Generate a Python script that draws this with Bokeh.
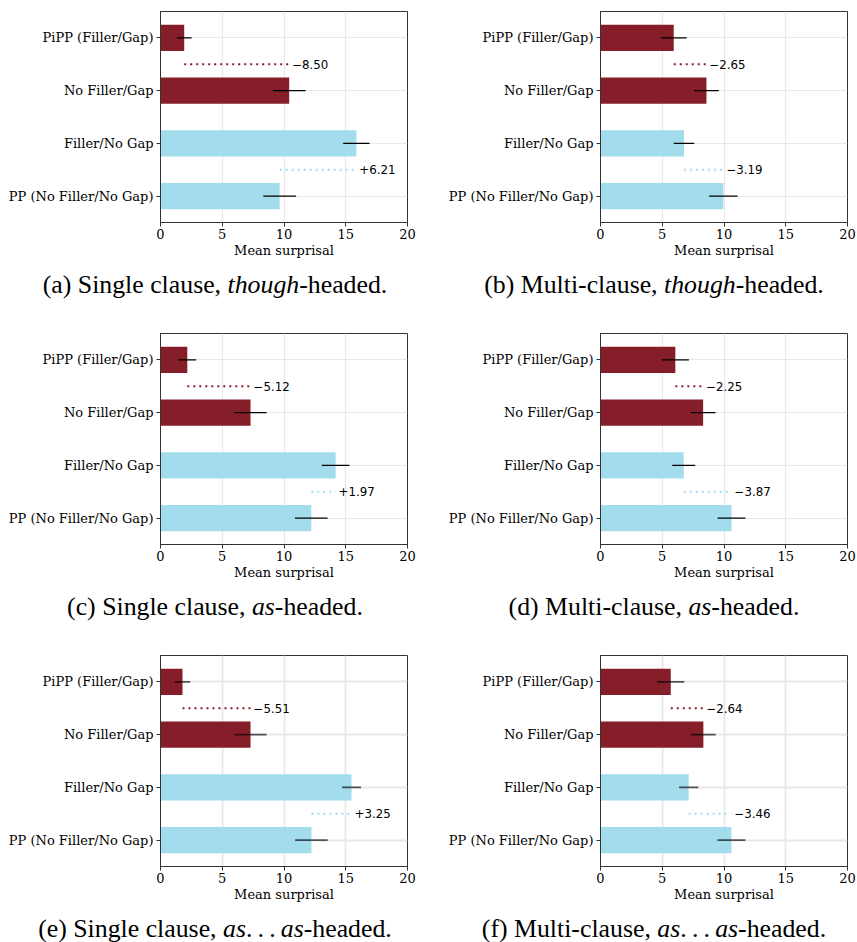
from bokeh.plotting import figure
from bokeh.layouts import column, row
from bokeh.models import Range1d, FixedTicker, Div, ColumnDataSource
from bokeh.core.properties import value
from bokeh.embed import file_html
from bokeh.resources import INLINE

# Conditions, top to bottom
CONDITIONS = ["PiPP (Filler/Gap)", "No Filler/Gap", "Filler/No Gap", "PP (No Filler/No Gap)"]

# Mean surprisal per condition, one list per panel
MEANS_A = [1.92, 10.42, 15.86, 9.65]
MEANS_B = [5.93, 8.58, 6.76, 9.95]
MEANS_C = [2.17, 7.29, 14.18, 12.21]
MEANS_D = [6.06, 8.31, 6.74, 10.61]
MEANS_E = [1.78, 7.29, 15.47, 12.22]
MEANS_F = [5.69, 8.33, 7.14, 10.60]

# Half-width of the error bars
ERRS_A = [0.60, 1.33, 1.07, 1.33]
ERRS_B = [1.05, 1.00, 0.83, 1.15]
ERRS_C = [0.72, 1.30, 1.12, 1.32]
ERRS_D = [1.10, 1.00, 0.93, 1.13]
ERRS_E = [0.62, 1.30, 0.77, 1.32]
ERRS_F = [1.10, 1.00, 0.78, 1.13]

CAPTIONS = [
    "(a) Single clause, <i>though</i>-headed.",
    "(b) Multi-clause, <i>though</i>-headed.",
    "(c) Single clause, <i>as</i>-headed.",
    "(d) Multi-clause, <i>as</i>-headed.",
    "(e) Single clause, <i>as</i>.&thinsp;.&thinsp;.&thinsp;<i>as</i>-headed.",
    "(f) Multi-clause, <i>as</i>.&thinsp;.&thinsp;.&thinsp;<i>as</i>-headed.",
]

X_TICKS = [0, 5, 10, 15, 20]

RED = "#861E2A"
BLUE = "#A2DCED"
SERIF = "DejaVu Serif"


def fmt_delta(d):
    d = round(d, 2)
    return ("\u2212" if d < 0 else "+") + f"{abs(d):.2f}"


def panel(means, errs, right_border, heavy=False):
    n = len(CONDITIONS)
    ys = [n - 1 - i for i in range(n)]
    colors = [RED, RED, BLUE, BLUE]

    p = figure(frame_width=247, frame_height=211,
               min_border_left=160, min_border_right=right_border,
               min_border_top=11, min_border_bottom=40,
               x_range=Range1d(0, 20), y_range=Range1d(-0.5, n - 0.5),
               output_backend="svg", toolbar_location=None)
    p.background_fill_color = "white"
    p.border_fill_color = "white"
    p.outline_line_color = "#333333"
    p.outline_line_width = 1

    grid_w = 1.8 if heavy else 1.2
    p.xgrid.ticker = FixedTicker(ticks=X_TICKS)
    p.ygrid.ticker = FixedTicker(ticks=ys)
    for g in (p.xgrid, p.ygrid):
        g.grid_line_color = "#e8e8e8"
        g.grid_line_width = grid_w

    p.xaxis.ticker = FixedTicker(ticks=X_TICKS)
    p.yaxis.ticker = FixedTicker(ticks=ys)
    p.yaxis.major_label_overrides = {y: c for y, c in zip(ys, CONDITIONS)}
    p.xaxis.axis_label = "Mean surprisal"
    for ax in (p.xaxis, p.yaxis):
        ax.axis_line_color = "#333333"
        ax.major_tick_line_color = "#333333"
        ax.major_tick_in = 0
        ax.major_tick_out = 4
        ax.minor_tick_line_color = None
        ax.major_label_text_font = SERIF
        ax.major_label_text_font_size = "13px"
        ax.major_label_text_color = "black"
        ax.axis_label_text_font = SERIF
        ax.axis_label_text_font_size = "13px"
        ax.axis_label_text_font_style = "normal"
        ax.axis_label_text_color = "black"
    p.xaxis.major_label_standoff = 2
    p.xaxis.axis_label_standoff = 1
    p.yaxis.major_label_standoff = 3

    src = ColumnDataSource(dict(
        y=ys, mean=means, color=colors,
        lo=[m - e for m, e in zip(means, errs)],
        hi=[m + e for m, e in zip(means, errs)],
    ))
    p.hbar(y="y", left=0, right="mean", height=0.5, fill_color="color",
           line_color=None, source=src)
    p.segment(x0="lo", x1="hi", y0="y", y1="y", source=src,
              line_color="black", line_width=1.8 if heavy else 1.2,
              line_alpha=0.65 if heavy else 1.0)

    # dotted difference markers between each pair of bars
    pairs = [(0, 1, RED), (2, 3, BLUE)]
    dx0, dx1, dy, dcol, dtext = [], [], [], [], []
    for a, b, col in pairs:
        lo, hi = sorted([means[a], means[b]])
        dx0.append(lo)
        dx1.append(hi)
        dy.append((ys[a] + ys[b]) / 2)
        dcol.append(col)
        dtext.append(fmt_delta(means[a] - means[b]))
    dsrc = ColumnDataSource(dict(x0=dx0, x1=dx1, y=dy, color=dcol, text=dtext))
    p.segment(x0="x0", x1="x1", y0="y", y1="y", source=dsrc, line_color="color",
              line_width=2, line_dash="2 4", line_cap="butt")
    p.text(x="x1", y="y", text="text", source=dsrc, x_offset=3,
           text_baseline="middle", text_align="left",
           text_font=value("DejaVu Sans"), text_font_size="11.8px",
           text_color="black")
    return p


def caption(html, width, height, pad, line_h):
    return Div(text=(
        f'<div style="display:block;box-sizing:content-box;width:{width - pad}px;'
        f'font-family:\'Liberation Serif\',\'Times New Roman\',serif;'
        f'font-size:25.8px;line-height:{line_h}px;text-align:center;'
        f'padding-left:{pad}px;white-space:nowrap;color:black;">{html}</div>'),
        width=width, height=height, margin=(0, 0, 0, 0))


data = [(MEANS_A, ERRS_A), (MEANS_B, ERRS_B), (MEANS_C, ERRS_C),
        (MEANS_D, ERRS_D), (MEANS_E, ERRS_E), (MEANS_F, ERRS_F)]

rows = []
for r in range(3):
    heavy = r == 2
    left = panel(*data[2 * r], right_border=33, heavy=heavy)
    right = panel(*data[2 * r + 1], right_border=10, heavy=heavy)
    rows.append(row(left, right))
    h = 36 if r == 2 else 60
    rows.append(row(caption(CAPTIONS[2 * r], 430, h, 0, 46),
                    caption(CAPTIONS[2 * r + 1], 427, h, 21, 46)))

layout = column(*rows)

with open("out.html", "w") as f:
    f.write(file_html(layout, INLINE))
